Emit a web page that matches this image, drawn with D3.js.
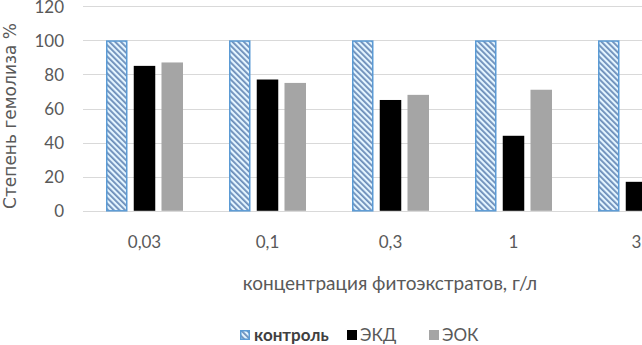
<!DOCTYPE html>
<html><head><meta charset="utf-8">
<script src="https://cdn.jsdelivr.net/npm/d3@7/dist/d3.min.js"></script>
<style>body{margin:0;background:#fff;overflow:hidden}svg{display:block}</style>
</head><body>
<script>
const categories = ["0,03", "0,1", "0,3", "1", "3"];
const seriesNames = ["контроль", "ЭКД", "ЭОК"];
const control = [100, 100, 100, 100, 100];
const ekd = [85, 77, 65, 44, 17];
const eok = [87, 75, 68, 71, null];
const yTicks = [0, 20, 40, 60, 80, 100, 120];
const yTitle = "Степень гемолиза %";
const xTitle = "концентрация фитоэкстратов, г/л";

const W = 642, H = 345;
const svg = d3.select("body").append("svg").attr("width", W).attr("height", H);
const defs = svg.append("defs");
const pat = defs.append("pattern").attr("id", "hatch").attr("patternUnits", "userSpaceOnUse")
  .attr("width", 4).attr("height", 4).attr("patternTransform", "rotate(-45)");
pat.append("rect").attr("width", 4).attr("height", 4).attr("fill", "#e4f5ff");
pat.append("rect").attr("x", 0).attr("y", 0).attr("width", 1.8).attr("height", 4).attr("fill", "#6a8cb8");

const x0 = d3.scaleBand().domain(categories).range([83, 83 + 5 * 123]).paddingInner(0.374).paddingOuter(0.187);
const x1 = d3.scaleBand().domain(seriesNames).range([0, x0.bandwidth()]).paddingInner(0.225);
const y = d3.scaleLinear().domain([0, 120]).range([210.8, 6.2]);

// gridlines
svg.append("g").selectAll("line").data(yTicks).join("line")
  .attr("x1", 83).attr("x2", 83 + 5 * 123)
  .attr("y1", d => Math.round(y(d)) + 0.5).attr("y2", d => Math.round(y(d)) + 0.5)
  .attr("stroke", "#d9d9d9").attr("stroke-width", 1);

// y tick labels
const yAxis = d3.axisLeft(y).tickValues(yTicks).tickSize(0).tickPadding(0);
const ya = svg.append("g").attr("transform", "translate(64,0)").call(yAxis);
ya.select(".domain").remove();
ya.selectAll("text").attr("font-family", "Lato, sans-serif").attr("font-size", 17).attr("fill", "#595959").attr("dy", "0.35em");

// x tick labels
const xAxis = d3.axisBottom(x0).tickSize(0).tickPadding(0);
const xa = svg.append("g").attr("transform", "translate(0,242)").call(xAxis);
xa.select(".domain").remove();
xa.selectAll("text").attr("font-family", "Lato, sans-serif").attr("font-size", 17).attr("fill", "#595959").attr("dy", "0.35em").attr("y", 0);

const data = categories.map((c, i) => ({c, vals: [control[i], ekd[i], eok[i]]}));
const fills = ["url(#hatch)", "#000000", "#a5a5a5"];
const g = svg.append("g").selectAll("g").data(data).join("g").attr("transform", d => `translate(${x0(d.c)},0)`);
g.selectAll("rect").data(d => d.vals.map((v, k) => ({v, k})).filter(e => e.v != null)).join("rect")
  .attr("x", e => x1(seriesNames[e.k]) + (e.k === 0 ? 0.75 : 0))
  .attr("width", e => x1.bandwidth() - (e.k === 0 ? 1.5 : 0))
  .attr("y", e => y(e.v) + (e.k === 0 ? 0.75 : 0))
  .attr("height", e => y(0) - y(e.v) - (e.k === 0 ? 0.75 : 0))
  .attr("fill", e => fills[e.k])
  .attr("stroke", e => e.k === 0 ? "#5b9bd5" : "none")
  .attr("stroke-width", 1.5);

// axis titles
svg.append("text").attr("transform", "translate(16,116) rotate(-90)").attr("text-anchor", "middle")
  .attr("font-family", "DejaVu Sans, sans-serif").attr("font-size", 17).attr("fill", "#595959").text(yTitle);
svg.append("text").attr("x", 390).attr("y", 283).attr("dy", "0.35em").attr("text-anchor", "middle")
  .attr("font-family", "Lato, sans-serif").attr("font-size", 19).attr("fill", "#595959").text(xTitle);

// legend
const legX = [240, 347, 429];
const lg = svg.append("g");
seriesNames.forEach((s, k) => {
  lg.append("rect").attr("x", legX[k] + (k === 0 ? 0.75 : 0)).attr("y", 330 + (k === 0 ? 0.75 : 0))
    .attr("width", k === 0 ? 8.5 : 10).attr("height", k === 0 ? 8.5 : 10)
    .attr("fill", fills[k]).attr("stroke", k === 0 ? "#5b9bd5" : "none").attr("stroke-width", 1.5);
  lg.append("text").attr("x", legX[k] + (k === 0 ? 14 : 13)).attr("y", 335).attr("dy", "0.35em")
    .attr("font-family", "Lato, sans-serif").attr("font-size", 17).attr("fill", k === 0 ? "#404040" : "#595959")
    .attr("font-weight", k === 0 ? "bold" : "normal").text(s);
});
</script>
</body></html>
